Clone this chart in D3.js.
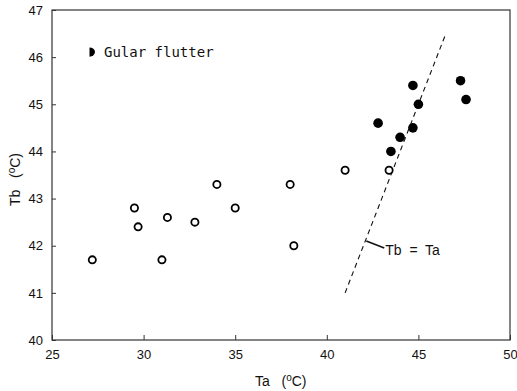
<!DOCTYPE html>
<html><head><meta charset="utf-8">
<script src="https://cdn.jsdelivr.net/npm/d3@7"></script>
<style>body{margin:0;background:#fff}svg{display:block}</style>
</head><body><svg id="c" width="517" height="391"></svg>
<script>
const openTa = [27.2, 29.5, 29.7, 31.0, 31.3, 32.8, 34.0, 35.0, 38.0, 38.2, 41.0, 43.4];
const openTb = [41.7, 42.8, 42.4, 41.7, 42.6, 42.5, 43.3, 42.8, 43.3, 42.0, 43.6, 43.6];
const flutterTa = [42.8, 43.5, 44.0, 44.7, 44.7, 45.0, 47.3, 47.6];
const flutterTb = [44.6, 44.0, 44.3, 44.5, 45.4, 45.0, 45.5, 45.1];
const identityLine = [41, 46.5];
const xTicks = [25, 30, 35, 40, 45, 50];
const yTicks = [40, 41, 42, 43, 44, 45, 46, 47];

const svg = d3.select("#c");
const x = d3.scaleLinear().domain([25, 50]).range([52, 510]);
const y = d3.scaleLinear().domain([40, 47]).range([340, 10]);
const sans = "'Liberation Sans', Arial, sans-serif";
const mono = "'DejaVu Sans Mono', monospace";

// frame
svg.append("rect").attr("x", x(25)).attr("y", y(47))
  .attr("width", x(50) - x(25)).attr("height", y(40) - y(47))
  .attr("fill", "none").attr("stroke", "#333").attr("stroke-width", 1.2);

// axes with inward ticks
const xAxis = d3.axisBottom(x).tickValues(xTicks).tickFormat(d3.format("d"))
  .tickSizeInner(-5).tickSizeOuter(0).tickPadding(10);
const gx = svg.append("g").attr("transform", `translate(0,${y(40)})`).call(xAxis);
gx.select(".domain").remove();
gx.selectAll("line").attr("stroke", "#333");
gx.selectAll("text").attr("font-family", sans).attr("font-size", 13).attr("fill", "#111");

const yAxis = d3.axisLeft(y).tickValues(yTicks).tickFormat(d3.format("d"))
  .tickSizeInner(-4).tickSizeOuter(0).tickPadding(9);
const gy = svg.append("g").attr("transform", `translate(${x(25)},0)`).call(yAxis);
gy.select(".domain").remove();
gy.selectAll("line").attr("stroke", "#333");
gy.selectAll("text").attr("font-family", sans).attr("font-size", 13).attr("fill", "#111");

// axis labels
const xl = svg.append("text").attr("x", 255).attr("y", 386)
  .attr("font-family", sans).attr("font-size", 14).attr("fill", "#111")
  .attr("xml:space", "preserve");
xl.append("tspan").text("Ta   (");
xl.append("tspan").attr("dy", -5).attr("font-size", 10).text("o");
xl.append("tspan").attr("dy", 5).text("C)");

const yl = svg.append("text").attr("transform", "translate(20,206) rotate(-90)")
  .attr("font-family", sans).attr("font-size", 14).attr("fill", "#111")
  .attr("xml:space", "preserve");
yl.append("tspan").text("Tb   (");
yl.append("tspan").attr("dy", -5).attr("font-size", 10).text("o");
yl.append("tspan").attr("dy", 5).text("C)");

// identity line
svg.append("line")
  .attr("x1", x(identityLine[0])).attr("y1", y(identityLine[0]))
  .attr("x2", x(identityLine[1])).attr("y2", y(identityLine[1]))
  .attr("stroke", "#111").attr("stroke-width", 1.1).attr("stroke-dasharray", "5,4");

// label for line
const lx = x(42.1), ly = y(42.1);
svg.append("line").attr("x1", lx + 1).attr("y1", ly).attr("x2", lx + 19).attr("y2", ly + 7)
  .attr("stroke", "#111").attr("stroke-width", 1.5);
svg.append("text").attr("x", lx + 20).attr("y", ly + 14)
  .attr("font-family", sans).attr("font-size", 14).attr("fill", "#111")
  .attr("xml:space", "preserve").text("Tb  =  Ta");

// open circles
svg.append("g").selectAll("circle").data(openTa.map((d, i) => [d, openTb[i]])).join("circle")
  .attr("cx", d => x(d[0])).attr("cy", d => y(d[1])).attr("r", 3.6)
  .attr("fill", "#fff").attr("stroke", "#000").attr("stroke-width", 1.8);

// filled circles
svg.append("g").selectAll("circle").data(flutterTa.map((d, i) => [d, flutterTb[i]])).join("circle")
  .attr("cx", d => x(d[0])).attr("cy", d => y(d[1])).attr("r", 4.8)
  .attr("fill", "#000");

// legend
svg.append("path").attr("d", "M89.5,47.5 A5.5,4.6 0 0 1 89.5,56.7 Z").attr("fill", "#000");
svg.append("text").attr("x", 104).attr("y", 57)
  .attr("font-family", mono).attr("font-size", 14).attr("fill", "#111").text("Gular flutter");
</script></body></html>
